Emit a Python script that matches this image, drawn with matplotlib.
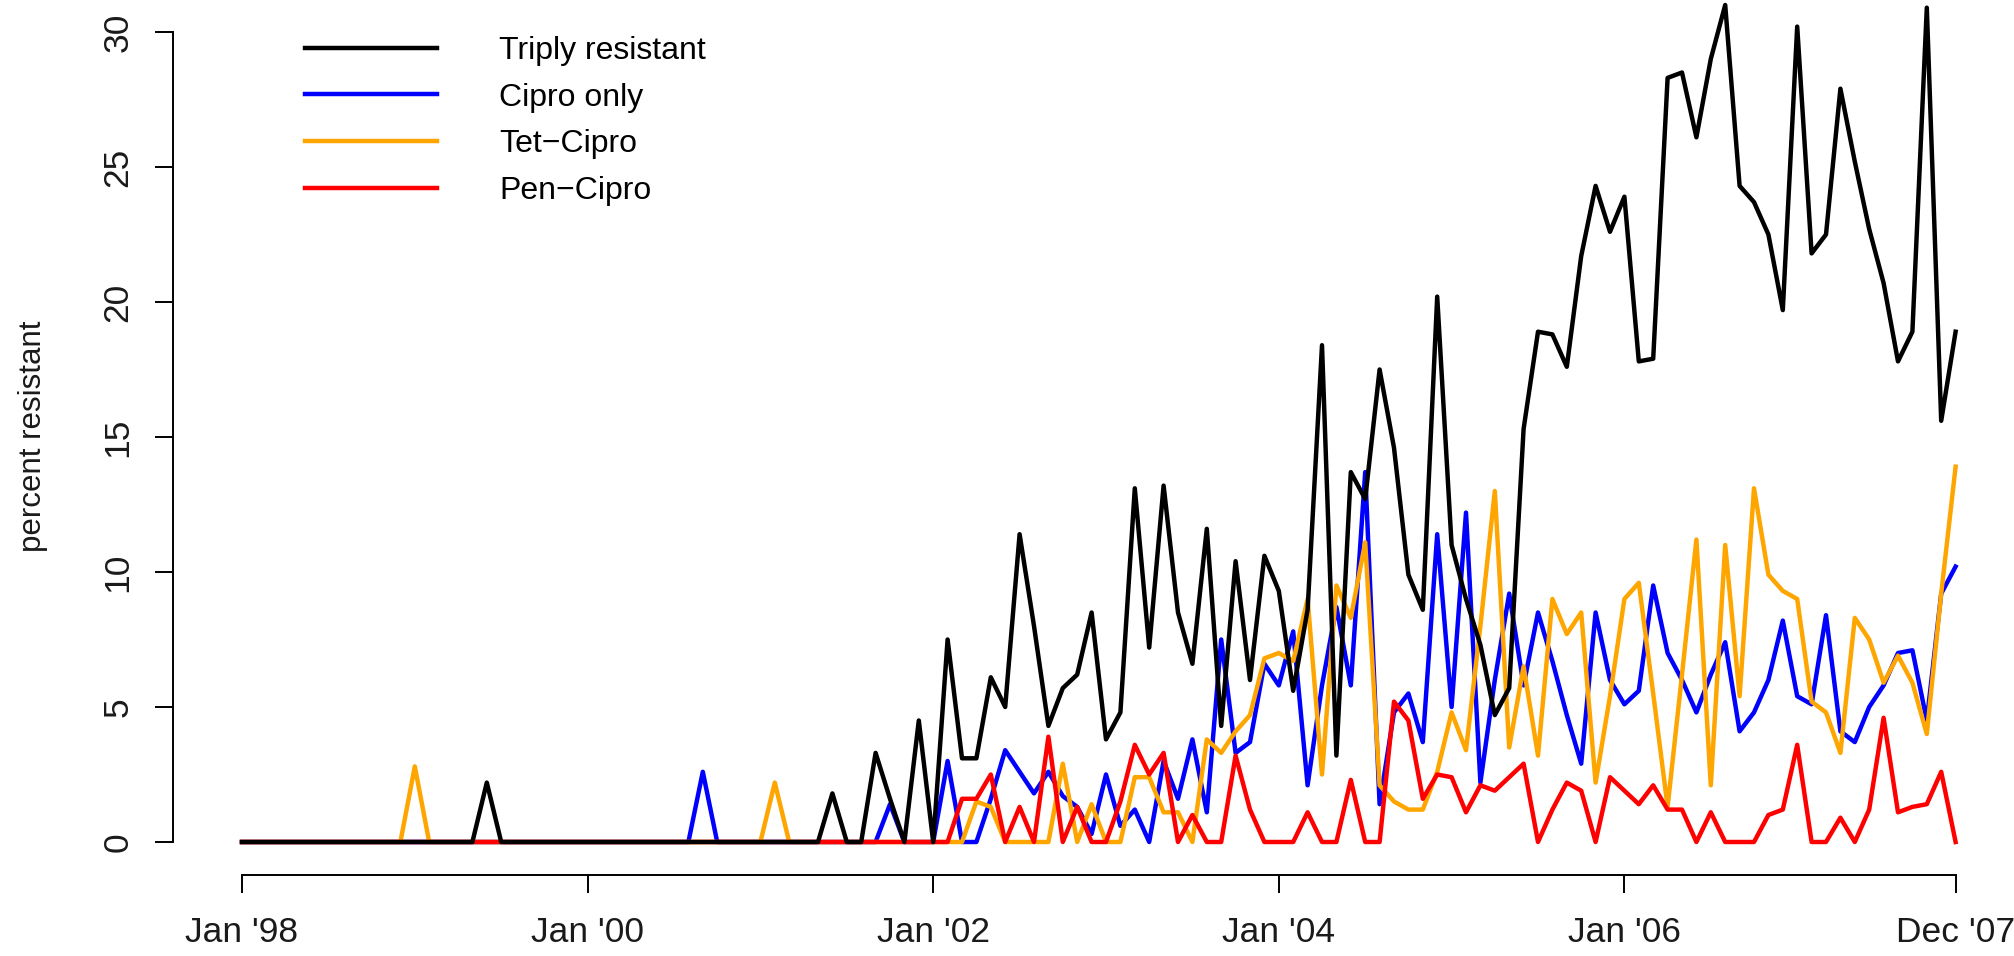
import matplotlib
matplotlib.use('Agg')
import matplotlib.pyplot as plt
import numpy as np

# monthly percent resistant, Jan 1998 .. Dec 2007 (120 months)
triply = ([0] * 17 + [2.2] + [0] * 23 + [1.8, 0, 0, 3.3, 1.6, 0, 4.5]
          + [0, 7.5, 3.1, 3.1, 6.1, 5.0, 11.4, 8.0, 4.3, 5.7, 6.2, 8.5]
          + [3.8, 4.8, 13.1, 7.2, 13.2, 8.5, 6.6, 11.6, 4.3, 10.4, 6.0, 10.6]
          + [9.3, 5.6, 8.6, 18.4, 3.2, 13.7, 12.7, 17.5, 14.6, 9.9, 8.6, 20.2]
          + [11.0, 9.0, 7.3, 4.7, 5.7, 15.3, 18.9, 18.8, 17.6, 21.7, 24.3, 22.6]
          + [23.9, 17.8, 17.9, 28.3, 28.5, 26.1, 29.0, 31.0, 24.3, 23.7, 22.5, 19.7]
          + [30.2, 21.8, 22.5, 27.9, 25.2, 22.7, 20.7, 17.8, 18.9, 30.9, 15.6, 18.9])

cipro = ([0] * 32 + [2.6] + [0] * 12 + [1.4] + [0, 0, 0]
         + [3.0, 0, 0, 1.6, 3.4, 2.6, 1.8, 2.6, 1.7, 1.3, 0.3]
         + [2.5, 0.6, 1.2, 0, 3.0, 1.6, 3.8, 1.1, 7.5, 3.3, 3.7, 6.6]
         + [5.8, 7.8, 2.1, 5.8, 8.7, 5.8, 13.7, 1.4, 4.8, 5.5, 3.7, 11.4]
         + [5.0, 12.2, 2.2, 6.0, 9.2, 5.8, 8.5, 6.7, 4.7, 2.9, 8.5, 6.0]
         + [5.1, 5.6, 9.5, 7.0, 6.0, 4.8, 6.2, 7.4, 4.1, 4.8, 6.0, 8.2]
         + [5.4, 5.1, 8.4, 4.1, 3.7, 5.0, 5.8, 7.0, 7.1, 4.5, 9.2, 10.2])

tet_cipro = ([0] * 12 + [2.8] + [0] * 24 + [2.2] + [0] * 13
             + [1.5, 1.3, 0, 0, 0, 0, 2.9, 0, 1.4]
             + [0, 0, 2.4, 2.4, 1.1, 1.1, 0, 3.8, 3.3, 4.1, 4.7, 6.8]
             + [7.0, 6.7, 9.0, 2.5, 9.5, 8.3, 11.1, 2.1, 1.5, 1.2, 1.2, 2.6]
             + [4.8, 3.4, 8.0, 13.0, 3.5, 6.5, 3.2, 9.0, 7.7, 8.5, 2.2, 5.4]
             + [9.0, 9.6, 5.5, 1.3, 6.2, 11.2, 2.1, 11.0, 5.4, 13.1, 9.9, 9.3]
             + [9.0, 5.2, 4.8, 3.3, 8.3, 7.5, 5.9, 6.9, 5.9, 4.0, 9.2, 13.9])

pen_cipro = ([0] * 50
             + [1.6, 1.6, 2.5, 0, 1.3, 0, 3.9, 0, 1.3, 0]
             + [0, 1.5, 3.6, 2.5, 3.3, 0, 1.0, 0, 0, 3.2, 1.2, 0]
             + [0, 0, 1.1, 0, 0, 2.3, 0, 0, 5.2, 4.5, 1.6, 2.5]
             + [2.4, 1.1, 2.1, 1.9, 2.4, 2.9, 0, 1.2, 2.2, 1.9, 0, 2.4]
             + [1.9, 1.4, 2.1, 1.2, 1.2, 0, 1.1, 0, 0, 0, 1.0, 1.2]
             + [3.6, 0, 0, 0.9, 0, 1.2, 4.6, 1.1, 1.3, 1.4, 2.6, 0])

tick_months = [0, 24, 48, 72, 96, 119]
tick_labels = ["Jan '98", "Jan '00", "Jan '02", "Jan '04", "Jan '06", "Dec '07"]
y_ticks = [0, 5, 10, 15, 20, 25, 30]

months = np.arange(len(triply))

plt.rcParams['font.family'] = ['Liberation Sans', 'DejaVu Sans']

W, H = 2015, 956
fig = plt.figure(figsize=(W / 100, H / 100), dpi=100)
ax = fig.add_axes([0, 0, 1, 1])
ax.patch.set_alpha(0)

# pixel layout: month 0 at x=242, 14.4 px per month; value 0 at y=842 (from top), 27 px per unit
x0, dx = 242, 14.4
y0, dy = 842, 27.0
ax.set_xlim(-x0 / dx, (W - x0) / dx)
ax.set_ylim(-(H - y0) / dy, y0 / dy)

lw = 3.2
ax.plot(months, cipro, color='#0000ff', lw=lw, label='Cipro only', zorder=2)
ax.plot(months, tet_cipro, color='#ffa500', lw=lw, label='Tet\u2212Cipro', zorder=3)
ax.plot(months, pen_cipro, color='#ff0000', lw=lw, label='Pen\u2212Cipro', zorder=4)
ax.plot(months, triply, color='black', lw=lw, label='Triply resistant', zorder=5)

# R style detached axes
for s in ['top', 'right']:
    ax.spines[s].set_visible(False)
ax.spines['left'].set_position(('data', -0.04 * 119))
ax.spines['left'].set_bounds(0, 30)
ax.spines['bottom'].set_position(('data', -0.04 * 31))
ax.spines['bottom'].set_bounds(0, 119)
for s in ['left', 'bottom']:
    ax.spines[s].set_linewidth(1.4)

tfs = 25.5
ax.set_xticks(tick_months)
ax.set_xticklabels(tick_labels, fontsize=tfs, color='#1a1a1a')
ax.set_yticks(y_ticks)
ax.set_yticklabels([str(v) for v in y_ticks], fontsize=tfs, rotation=90,
                   va='center', color='#1a1a1a')
ax.tick_params(axis='both', direction='out', length=13, width=1.4)
ax.tick_params(axis='x', pad=16)
ax.tick_params(axis='y', pad=15)

ax.set_ylabel('percent resistant', fontsize=22.5, color='#1a1a1a')
ax.yaxis.set_label_coords(48 / W, (H - 436) / H, transform=fig.transFigure)

lfs = 23
handles, labels = ax.get_legend_handles_labels()
order = [3, 0, 1, 2]
ax.legend([handles[i] for i in order], [labels[i] for i in order],
          loc='upper left', bbox_to_anchor=(305 / W, 1 - 36 / H),
          bbox_transform=fig.transFigure, frameon=False, fontsize=lfs,
          handlelength=4.13, handletextpad=1.94, labelspacing=0.52,
          borderpad=0, borderaxespad=0)

fig.savefig('out.png', dpi=100)
